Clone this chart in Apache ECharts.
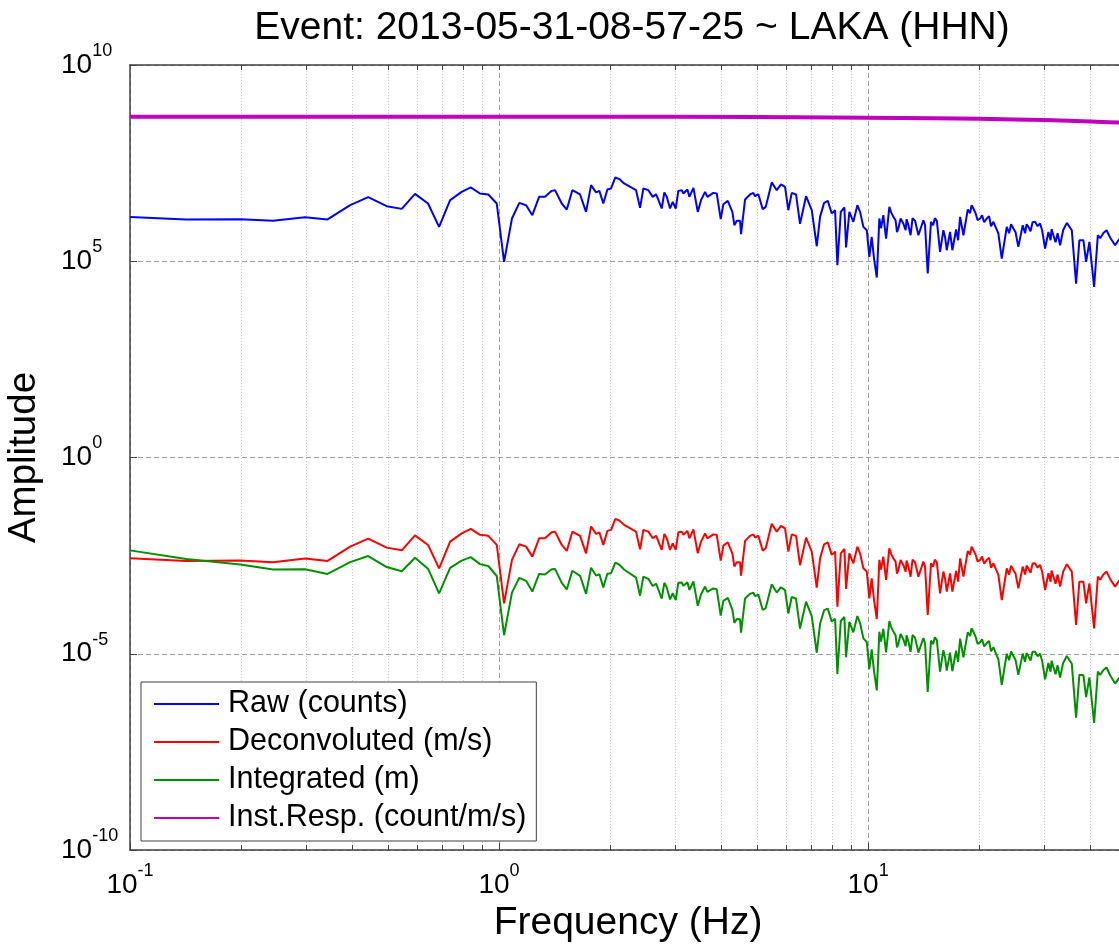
<!DOCTYPE html>
<html><head><meta charset="utf-8">
<script src="https://cdn.jsdelivr.net/npm/echarts@6/dist/echarts.min.js"></script>
<style>html,body{margin:0;padding:0;background:#fff}#c{width:1119px;height:948px}</style>
</head><body><div id="c"></div>
<script>
const titleText = 'Event: 2013-05-31-08-57-25 ~ LAKA (HHN)';
const xName = 'Frequency (Hz)';
const yName = 'Amplitude';
const seriesNames = ['Raw (counts)', 'Deconvoluted (m/s)', 'Integrated (m)', 'Inst.Resp. (count/m/s)'];

const freq = [
 0.1, 0.142, 0.199, 0.244, 0.298, 0.343, 0.395, 0.442, 0.496, 0.545,
 0.592, 0.642, 0.688, 0.737, 0.792, 0.838, 0.888, 0.935, 0.986, 1.032,
 1.084, 1.135, 1.184, 1.231, 1.284, 1.332, 1.389, 1.418, 1.479, 1.526,
 1.58, 1.658, 1.721, 1.776, 1.832, 1.87, 1.917, 1.966, 2.012, 2.066,
 2.118, 2.182, 2.351, 2.411, 2.461, 2.539, 2.609, 2.664, 2.76, 2.805,
 2.848, 2.907, 2.956, 3.012, 3.061, 3.127, 3.159, 3.239, 3.28, 3.363,
 3.456, 3.527, 3.617, 3.669, 3.808, 3.89, 3.988, 4.054, 4.167, 4.288,
 4.342, 4.408, 4.499, 4.527, 4.642, 4.788, 4.889, 4.941, 5.043, 5.183,
 5.281, 5.483, 5.656, 5.809, 5.957, 6.081, 6.211, 6.38, 6.541, 6.792,
 7.037, 7.261, 7.413, 7.601, 7.778, 7.974, 8.141, 8.258, 8.435, 8.627,
 8.718, 8.898, 9.124, 9.354, 9.513, 9.712, 9.92,
 10.08, 10.23, 10.38, 10.56, 10.73, 10.84, 11.0, 11.19, 11.42, 11.54,
 11.71, 11.87, 11.98, 12.08, 12.25, 12.46, 12.64, 12.72, 12.86, 13.04,
 13.2, 13.41, 13.69, 14.12, 14.27, 14.51, 14.81, 15.01, 15.17, 15.36,
 15.67, 16.0, 16.17, 16.34, 16.68, 16.92, 17.32, 17.54, 17.76, 18.13,
 18.63, 18.9, 19.08, 19.29, 19.56, 19.81, 20.12, 20.37, 20.63, 20.98,
 21.28, 21.54, 21.86, 22.23, 22.55, 23.03, 23.76, 24.11, 24.41, 24.76,
 25.1, 25.54, 26.25, 26.64, 26.89, 27.19, 27.56, 27.91, 28.35, 28.8,
 29.25, 29.62, 30.18, 30.81, 31.23, 31.43, 31.78, 32.22, 32.63, 33.14,
 33.78, 34.56, 35.65, 36.62, 37.38, 38.33, 38.98, 39.79, 40.98, 41.94,
 42.55, 43.43, 44.29, 45.28, 46.71, 47.88, 50
];

const raw = [
 1.35e6, 1.16e6, 1.18e6, 1.07e6, 1.33e6, 1.16e6, 2.68e6, 4.29e6, 2.53e6, 2.16e6,
 5.21e6, 2.96e6, 7.5e5, 3.6e6, 5.86e6, 7.59e6, 5.33e6, 5.03e6, 2.96e6, 9.6e4,
 1.23e6, 3.07e6, 2.68e6, 1.49e6, 4.37e6, 4.37e6, 6.21e6, 6.47e6, 2.96e6, 2.08e6,
 6.47e6, 5.03e6, 1.81e6, 8.69e6, 5.66e6, 6.21e6, 2.96e6, 6.75e6, 7.16e6, 1.37e7,
 1.24e7, 9.6e6, 6.47e6, 2.29e6, 7.16e6, 6.47e6, 4.37e6, 5.12e6, 2.21e6, 5.66e6,
 4.37e6, 2.21e6, 3.26e6, 2.21e6, 6.21e6, 6.47e6, 5.33e6, 6.75e6, 4.37e6, 7.41e6,
 1.81e6, 3.6e6, 5.86e6, 4.37e6, 5.52e6, 5.33e6, 1.18e6, 2.84e6, 3.45e6, 1.81e6,
 8.3e5, 1.07e6, 1.07e6, 4.9e5, 3.75e6, 5.03e6, 5.52e6, 4.55e6, 5.12e6, 2.12e6,
 2.43e6, 1.02e7, 6.47e6, 9.05e6, 7.86e6, 2.0e6, 5.52e6, 5.03e6, 9.0e5, 4.55e6,
 2.0e6, 2.41e5, 1.35e6, 3.07e6, 3.45e6, 1.65e6, 2.0e6, 7.9e4, 1.81e6, 2.34e6,
 2.24e5, 1.81e6, 1.01e6, 2.68e6, 1.81e6, 7.5e5, 6.18e5,
 1.29e5, 4.17e5, 1.17e5, 3.84e4, 1.23e6, 6.95e5, 1.49e6, 3.79e5, 2.43e6, 1.78e6,
 1.35e6, 1.11e6, 5.49e5, 6.82e5, 1.23e6, 9.16e5, 6.18e5, 1.18e6, 8.3e5, 4.6e5,
 1.25e6, 1.07e6, 4.6e5, 1.11e6, 8.3e5, 4.86e4, 1.01e6, 8.3e5, 1.25e6, 1.07e6,
 1.73e5, 6.18e5, 4.09e5, 1.91e5, 5.59e5, 1.91e5, 6.44e5, 3.43e5, 1.35e6, 4.6e5,
 2.08e6, 1.68e6, 2.68e6, 2.21e6, 1.68e6, 1.11e6, 1.23e6, 1.49e6, 9.89e5, 1.23e6,
 1.41e6, 7.82e5, 1.01e6, 6.95e5, 5.09e5, 1.17e5, 7.5e5, 5.18e5, 8.79e5, 6.82e5,
 5.49e5, 2.32e5, 8.3e5, 5.18e5, 8.79e5, 7.5e5, 5.82e5, 9.89e5, 1.01e6, 7.82e5,
 9.16e5, 6.18e5, 2.11e5, 5.59e5, 3.43e5, 6.55e5, 4.6e5, 3.05e5, 5.18e5, 2.56e5,
 6.18e5, 9.49e5, 6.18e5, 2.7e4, 3.43e5, 3.43e5, 9.6e4, 3.1e5, 2.21e4, 4.6e5,
 3.86e5, 5.27e5, 6.18e5, 4.03e5, 2.56e5, 3.58e5, 4.4e5
];

const decon = [
 2.70e-3, 2.32e-3, 2.36e-3, 2.14e-3, 2.66e-3, 2.32e-3, 5.36e-3, 8.58e-3, 5.06e-3, 4.32e-3,
 1.04e-2, 5.92e-3, 1.50e-3, 7.2e-3, 1.17e-2, 1.52e-2, 1.07e-2, 1.01e-2, 5.92e-3, 1.92e-4,
 2.46e-3, 6.14e-3, 5.36e-3, 2.98e-3, 8.74e-3, 8.74e-3, 1.24e-2, 1.29e-2, 5.92e-3, 4.16e-3,
 1.29e-2, 1.01e-2, 3.62e-3, 1.74e-2, 1.13e-2, 1.24e-2, 5.92e-3, 1.35e-2, 1.43e-2, 2.74e-2,
 2.48e-2, 1.92e-2, 1.29e-2, 4.58e-3, 1.43e-2, 1.29e-2, 8.74e-3, 1.02e-2, 4.42e-3, 1.13e-2,
 8.74e-3, 4.42e-3, 6.52e-3, 4.42e-3, 1.24e-2, 1.29e-2, 1.07e-2, 1.35e-2, 8.74e-3, 1.48e-2,
 3.62e-3, 7.2e-3, 1.17e-2, 8.74e-3, 1.10e-2, 1.07e-2, 2.36e-3, 5.68e-3, 6.9e-3, 3.62e-3,
 1.66e-3, 2.14e-3, 2.14e-3, 9.8e-4, 7.5e-3, 1.01e-2, 1.10e-2, 9.1e-3, 1.02e-2, 4.24e-3,
 4.86e-3, 2.04e-2, 1.29e-2, 1.81e-2, 1.57e-2, 4.0e-3, 1.10e-2, 1.01e-2, 1.8e-3, 9.1e-3,
 4.0e-3, 4.82e-4, 2.70e-3, 6.14e-3, 6.9e-3, 3.3e-3, 4.0e-3, 1.58e-4, 3.62e-3, 4.68e-3,
 4.48e-4, 3.62e-3, 2.02e-3, 5.36e-3, 3.62e-3, 1.5e-3, 1.24e-3,
 2.58e-4, 8.34e-4, 2.34e-4, 7.68e-5, 2.46e-3, 1.39e-3, 2.98e-3, 7.58e-4, 4.86e-3, 3.56e-3,
 2.70e-3, 2.22e-3, 1.10e-3, 1.36e-3, 2.46e-3, 1.83e-3, 1.24e-3, 2.36e-3, 1.66e-3, 9.2e-4,
 2.50e-3, 2.14e-3, 9.2e-4, 2.22e-3, 1.66e-3, 9.72e-5, 2.02e-3, 1.66e-3, 2.50e-3, 2.14e-3,
 3.46e-4, 1.24e-3, 8.18e-4, 3.82e-4, 1.12e-3, 3.82e-4, 1.29e-3, 6.86e-4, 2.70e-3, 9.2e-4,
 4.16e-3, 3.36e-3, 5.36e-3, 4.42e-3, 3.36e-3, 2.22e-3, 2.46e-3, 2.98e-3, 1.98e-3, 2.46e-3,
 2.82e-3, 1.56e-3, 2.02e-3, 1.39e-3, 1.02e-3, 2.34e-4, 1.5e-3, 1.04e-3, 1.76e-3, 1.36e-3,
 1.10e-3, 4.64e-4, 1.66e-3, 1.04e-3, 1.76e-3, 1.5e-3, 1.16e-3, 1.98e-3, 2.02e-3, 1.56e-3,
 1.83e-3, 1.24e-3, 4.22e-4, 1.12e-3, 6.86e-4, 1.31e-3, 9.2e-4, 6.1e-4, 1.04e-3, 5.12e-4,
 1.24e-3, 1.90e-3, 1.24e-3, 5.4e-5, 6.86e-4, 6.86e-4, 1.92e-4, 6.2e-4, 4.42e-5, 9.2e-4,
 7.72e-4, 1.05e-3, 1.24e-3, 8.06e-4, 5.12e-4, 7.16e-4, 8.8e-4
];

const integ = [
 4.30e-3, 2.60e-3, 1.89e-3, 1.40e-3, 1.42e-3, 1.08e-3, 2.16e-3, 3.09e-3, 1.62e-3, 1.26e-3,
 2.80e-3, 1.47e-3, 3.47e-4, 1.55e-3, 2.35e-3, 2.89e-3, 1.92e-3, 1.72e-3, 9.56e-4, 2.96e-5,
 3.61e-4, 8.61e-4, 7.21e-4, 3.85e-4, 1.08e-3, 1.04e-3, 1.42e-3, 1.45e-3, 6.37e-4, 4.34e-4,
 1.30e-3, 9.69e-4, 3.35e-4, 1.56e-3, 9.82e-4, 1.06e-3, 4.92e-4, 1.09e-3, 1.13e-3, 2.11e-3,
 1.86e-3, 1.40e-3, 8.73e-4, 3.02e-4, 9.25e-4, 8.09e-4, 5.33e-4, 6.09e-4, 2.55e-4, 6.41e-4,
 4.89e-4, 2.42e-4, 3.51e-4, 2.34e-4, 6.45e-4, 6.56e-4, 5.39e-4, 6.63e-4, 4.24e-4, 7.00e-4,
 1.67e-4, 3.25e-4, 5.15e-4, 3.79e-4, 4.60e-4, 4.38e-4, 9.42e-5, 2.23e-4, 2.64e-4, 1.34e-4,
 6.09e-5, 7.73e-5, 7.57e-5, 3.45e-5, 2.57e-4, 3.36e-4, 3.58e-4, 2.93e-4, 3.22e-4, 1.30e-4,
 1.46e-4, 5.92e-4, 3.63e-4, 4.96e-4, 4.19e-4, 1.05e-4, 2.82e-4, 2.52e-4, 4.38e-5, 2.13e-4,
 9.05e-5, 1.06e-5, 5.80e-5, 1.29e-4, 1.41e-4, 6.59e-5, 7.82e-5, 3.04e-6, 6.83e-5, 8.63e-5,
 8.18e-6, 6.47e-5, 3.52e-5, 9.12e-5, 6.06e-5, 2.46e-5, 1.99e-5,
 4.07e-6, 1.30e-5, 3.59e-6, 1.16e-6, 3.65e-5, 2.04e-5, 4.31e-5, 1.08e-5, 6.77e-5, 4.91e-5,
 3.67e-5, 2.98e-5, 1.46e-5, 1.79e-5, 3.20e-5, 2.34e-5, 1.56e-5, 2.95e-5, 2.05e-5, 1.12e-5,
 3.01e-5, 2.54e-5, 1.07e-5, 2.50e-5, 1.85e-5, 1.07e-6, 2.17e-5, 1.76e-5, 2.62e-5, 2.22e-5,
 3.51e-6, 1.23e-5, 8.05e-6, 3.72e-6, 1.07e-5, 3.59e-6, 1.19e-5, 6.22e-6, 2.42e-5, 8.08e-6,
 3.55e-5, 2.83e-5, 4.47e-5, 3.65e-5, 2.73e-5, 1.78e-5, 1.95e-5, 2.33e-5, 1.53e-5, 1.87e-5,
 2.11e-5, 1.15e-5, 1.47e-5, 9.95e-6, 7.2e-6, 1.62e-6, 1.00e-5, 6.86e-6, 1.15e-5, 8.74e-6,
 6.98e-6, 2.89e-6, 1.01e-5, 6.21e-6, 1.04e-5, 8.78e-6, 6.70e-6, 1.13e-5, 1.13e-5, 8.62e-6,
 9.96e-6, 6.66e-6, 2.23e-6, 5.79e-6, 3.50e-6, 6.63e-6, 4.61e-6, 3.01e-6, 5.07e-6, 2.46e-6,
 5.84e-6, 8.75e-6, 5.54e-6, 2.35e-7, 2.92e-6, 2.85e-6, 7.84e-7, 2.48e-6, 1.72e-7, 3.49e-6,
 2.89e-6, 3.85e-6, 4.46e-6, 2.83e-6, 1.74e-6, 2.38e-6, 2.80e-6
];

const respFreq = [0.1, 0.3, 1, 3, 5, 8, 10, 15, 20, 25, 30, 35, 40, 45, 50];
const resp = [4.8e8, 4.8e8, 4.8e8, 4.78e8, 4.72e8, 4.62e8, 4.55e8, 4.4e8, 4.25e8, 4.1e8, 3.95e8, 3.8e8, 3.65e8, 3.5e8, 3.35e8];

const xMinorGrid = [0.2, 0.3, 0.4, 0.5, 0.6, 0.7, 0.8, 0.9, 2, 3, 4, 5, 6, 7, 8, 9, 20, 30, 40];
const xTopTicks = [0.2, 0.3, 0.4, 0.5, 0.6, 0.7, 0.8, 0.9, 1, 2, 3, 4, 5, 6, 7, 8, 9, 10, 20, 30, 40];

const FONT = '"Liberation Sans", Arial, Helvetica, sans-serif';
const AXIS_COLOR = '#404040';

function powLabel(v) {
  const l = Math.log10(v);
  const e = Math.round(l);
  if (Math.abs(l - e) > 1e-6) return '';
  return '{b|10}{e|' + e + '}';
}
const rich = {
  b: { fontSize: 28, fontFamily: FONT, color: '#000', lineHeight: 46, verticalAlign: 'middle' },
  e: { fontSize: 18, fontFamily: FONT, color: '#000', lineHeight: 46, height: 18, verticalAlign: 'top' }
};

function pairs(xs, ys) {
  const n = Math.min(xs.length, ys.length);
  const out = [];
  for (let i = 0; i < n; i++) out.push([xs[i], ys[i]]);
  return out;
}

const chart = echarts.init(document.getElementById('c'), null, { renderer: 'canvas' });
chart.setOption({
  animation: false,
  backgroundColor: '#fff',
  title: {
    text: titleText, left: 627, top: 4, textAlign: 'center',
    textStyle: { fontSize: 39, fontWeight: 'normal', fontFamily: FONT, color: '#000' }
  },
  grid: { left: 130, top: 65, width: 996, height: 785, containLabel: false, outerBoundsMode: 'none' },
  legend: {
    orient: 'vertical', left: 141, top: 682,
    itemWidth: 65, itemHeight: 14, itemGap: 0,
    padding: [3, 10, 4, 12],
    borderColor: AXIS_COLOR, borderWidth: 1, backgroundColor: '#fff',
    selectedMode: false,
    itemStyle: { opacity: 0 },
    textStyle: { fontSize: 30.5, fontFamily: FONT, color: '#000', lineHeight: 38, padding: [0, 0, 0, 4] },
    data: seriesNames
  },
  xAxis: [
    {
      type: 'log', logBase: 10, min: 0.1, max: 50, position: 'bottom',
      axisLine: { show: true, onZero: false, lineStyle: { color: AXIS_COLOR, width: 1.5 } },
      axisTick: { show: true, inside: true, length: 7, lineStyle: { color: AXIS_COLOR } },
      axisLabel: { formatter: powLabel, rich: rich, margin: 12 },
      splitLine: { show: true, lineStyle: { color: '#a0a0a0', width: 1, type: [5, 3] } },
      name: xName, nameLocation: 'middle', nameGap: 43,
      nameTextStyle: { fontSize: 39, fontFamily: FONT, color: '#000' }
    },
    {
      type: 'log', logBase: 10, min: 0.1, max: 50, position: 'bottom',
      axisLine: { show: false },
      axisTick: { show: true, inside: true, length: 5, customValues: xMinorGrid, lineStyle: { color: AXIS_COLOR } },
      axisLabel: { show: false },
      splitLine: { show: true, lineStyle: { color: '#cccccc', width: 1, type: [1, 2] } }
    },
    {
      type: 'log', logBase: 10, min: 0.1, max: 50, position: 'top',
      axisLine: { show: true, onZero: false, lineStyle: { color: AXIS_COLOR, width: 1.5 } },
      axisTick: { show: true, inside: true, length: 5, customValues: xTopTicks, lineStyle: { color: AXIS_COLOR } },
      axisLabel: { show: false },
      splitLine: { show: false }
    }
  ],
  yAxis: {
    type: 'log', logBase: 1e5, min: 1e-10, max: 1e10, position: 'left',
    axisLine: { show: true, onZero: false, lineStyle: { color: AXIS_COLOR, width: 1.5 } },
    axisTick: { show: true, inside: true, length: 7, lineStyle: { color: AXIS_COLOR } },
    axisLabel: { formatter: powLabel, rich: rich, align: 'left', margin: 69 },
    splitLine: { show: true, lineStyle: { color: '#a0a0a0', width: 1, type: [5, 3] } },
    name: yName, nameLocation: 'middle', nameGap: 86,
    nameTextStyle: { fontSize: 38.5, fontFamily: FONT, color: '#000' }
  },
  series: [
    { name: seriesNames[0], type: 'line', xAxisIndex: 0, data: pairs(freq, raw), symbol: 'none', showSymbol: false, lineStyle: { color: '#0000ff', width: 2 }, itemStyle: { color: '#0000ff' }, z: 3 },
    { name: seriesNames[1], type: 'line', xAxisIndex: 0, data: pairs(freq, decon), symbol: 'none', showSymbol: false, lineStyle: { color: '#ff0000', width: 2 }, itemStyle: { color: '#ff0000' }, z: 3 },
    { name: seriesNames[2], type: 'line', xAxisIndex: 0, data: pairs(freq, integ), symbol: 'none', showSymbol: false, lineStyle: { color: '#009000', width: 2 }, itemStyle: { color: '#009000' }, z: 3 },
    { name: seriesNames[3], type: 'line', xAxisIndex: 0, data: pairs(respFreq, resp), symbol: 'none', showSymbol: false, lineStyle: { color: '#bf00bf', width: 4 }, itemStyle: { color: '#bf00bf' }, z: 4 }
  ]
});
</script>
</body></html>
